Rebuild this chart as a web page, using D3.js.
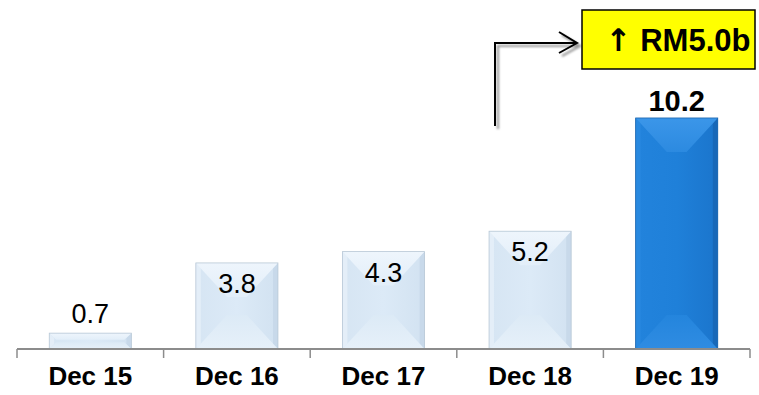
<!DOCTYPE html>
<html>
<head>
<meta charset="utf-8">
<script src="https://cdn.jsdelivr.net/npm/d3@7"></script>
<style>
  html, body { margin: 0; padding: 0; background: #fff; }
  svg { display: block; font-family: "Liberation Sans", Arial, sans-serif; }
</style>
</head>
<body>
<svg id="chart" width="759" height="395"></svg>
<script>
// Year-end balances (RM billion)
const categories = ["Dec 15", "Dec 16", "Dec 17", "Dec 18", "Dec 19"];
const values = [0.7, 3.8, 4.3, 5.2, 10.2];
const highlight = ["Dec 19"];

const svg = d3.select("#chart");
const axisY = 349;

const x = d3.scaleBand()
  .domain(categories)
  .range([17, 750])
  .paddingInner(0.44)
  .paddingOuter(0.22);

const y = d3.scaleLinear().domain([0, 12]).range([axisY, 77.2]);

const defs = svg.append("defs");

// soft shadow for the connector arrow
const blur = defs.append("filter").attr("id", "soft").attr("x", "-20%").attr("y", "-20%").attr("width", "140%").attr("height", "140%");
blur.append("feGaussianBlur").attr("stdDeviation", 1.2);

function grad(id, horizontal, stops) {
  const g = defs.append("linearGradient").attr("id", id)
    .attr("x1", 0).attr("y1", 0).attr("x2", horizontal ? 1 : 0).attr("y2", horizontal ? 0 : 1);
  stops.forEach(([o, c]) => g.append("stop").attr("offset", o).attr("stop-color", c));
}
grad("lightBase", true, [[0, "#d6e5f3"], [0.5, "#dceaf7"], [1, "#d2e2f1"]]);
grad("blueBase", true, [[0, "#2283dc"], [0.5, "#1f80d9"], [1, "#1b75cc"]]);
grad("lightTop", false, [[0, "#eef5fc"], [1, "#e2eef9"]]);
grad("blueTop", false, [[0, "#3b96e9"], [1, "#2c8ae0"]]);
grad("lightBottom", false, [[0, "#dceaf6"], [1, "#e6f0f9"]]);
grad("blueBottom", false, [[0, "#2485dd"], [1, "#2f8ce2"]]);

const palette = {
  light: { base: "url(#lightBase)", top: "url(#lightTop)", bottom: "url(#lightBottom)", left: "#e4eef8", right: "#c8d9ea", stroke: "#b9c8d6" },
  blue:  { base: "url(#blueBase)",  top: "url(#blueTop)",  bottom: "url(#blueBottom)",  left: "#2989e0", right: "#1868b8", stroke: "#1d66ae" }
};

// bevelled bars
const bars = svg.append("g").selectAll("g.bar")
  .data(categories.map((c, i) => ({ cat: c, value: values[i] })))
  .join("g").attr("class", "bar");

bars.each(function (d) {
  const g = d3.select(this);
  const p = highlight.includes(d.cat) ? palette.blue : palette.light;
  const x0 = x(d.cat), x1 = x0 + x.bandwidth();
  const y0 = y(d.value), y1 = y(0);
  const w = x1 - x0, h = y1 - y0;
  const depth = Math.min(h * 0.42, 34);
  const inset = Math.min(w * 0.38, depth * 1.05);
  const side = Math.min(5, w * 0.06);

  g.append("rect").attr("x", x0).attr("y", y0).attr("width", w).attr("height", h).attr("fill", p.base);
  g.append("polygon").attr("points", [[x0, y0], [x0 + side, y0 + side], [x0 + side, y1 - side], [x0, y1]].join(" "))
    .attr("fill", p.left);
  g.append("polygon").attr("points", [[x1, y0], [x1 - side, y0 + side], [x1 - side, y1 - side], [x1, y1]].join(" "))
    .attr("fill", p.right);
  g.append("polygon").attr("points", [[x0, y0], [x1, y0], [x1 - inset, y0 + depth], [x0 + inset, y0 + depth]].join(" "))
    .attr("fill", p.top);
  g.append("polygon").attr("points", [[x0, y1], [x1, y1], [x1 - inset, y1 - depth], [x0 + inset, y1 - depth]].join(" "))
    .attr("fill", p.bottom);
  g.append("rect").attr("x", x0).attr("y", y0).attr("width", w).attr("height", h)
    .attr("fill", "none").attr("stroke", p.stroke).attr("stroke-width", 0.8);
});

// value labels
bars.append("text")
  .attr("x", d => x(d.cat) + x.bandwidth() / 2)
  .attr("y", d => {
    const top = y(d.value);
    if (highlight.includes(d.cat)) return top - 7;
    if (y(0) - top < 40) return top - 10;
    return top + 30;
  })
  .attr("text-anchor", "middle")
  .attr("font-size", d => highlight.includes(d.cat) ? 29 : 27)
  .attr("font-weight", d => highlight.includes(d.cat) ? "bold" : "normal")
  .attr("fill", "#000")
  .text(d => d.value.toFixed(1));

// category axis
const axis = svg.append("g").attr("transform", `translate(0,${axisY})`);
axis.append("line").attr("x1", 17).attr("x2", 750).attr("y1", 0).attr("y2", 0)
  .attr("stroke", "#8c8c8c").attr("stroke-width", 2);
const half = x.step() * x.paddingInner() / 2;
const bounds = categories.map(c => x(c) - half)
  .concat([x(categories[categories.length - 1]) + x.bandwidth() + half]);
axis.selectAll("line.tick").data(bounds).join("line").attr("class", "tick")
  .attr("x1", d => d).attr("x2", d => d).attr("y1", 0).attr("y2", 9)
  .attr("stroke", "#8c8c8c").attr("stroke-width", 1.5);
axis.append("g")
  .call(d3.axisBottom(x).tickSize(0).tickPadding(0))
  .call(g => g.select(".domain").remove())
  .selectAll("text")
  .attr("dy", 0).attr("y", 36)
  .attr("font-size", 26).attr("font-weight", "bold").attr("fill", "#000")
  .attr("font-family", "'Liberation Sans', Arial, sans-serif");

// change annotation: connector arrow and callout box
const prev = values[categories.indexOf("Dec 18")];
const last = values[categories.indexOf("Dec 19")];
const ann = svg.append("g");
const path = "M495,126 L495,43 L577,43 M559,32 L577,43 L559,53";
ann.append("path").attr("d", path).attr("transform", "translate(3,3)")
  .attr("fill", "none").attr("stroke", "#9a9a9a").attr("stroke-width", 2.2).attr("filter", "url(#soft)");
ann.append("path").attr("d", path)
  .attr("fill", "none").attr("stroke", "#000").attr("stroke-width", 2);

ann.append("rect").attr("x", 582).attr("y", 10).attr("width", 173).attr("height", 59)
  .attr("fill", "#ffff00").attr("stroke", "#000").attr("stroke-width", 1.5);
const callout = ann.append("text").attr("x", 678).attr("y", 51).attr("text-anchor", "middle")
  .attr("font-size", 31).attr("font-weight", "bold").attr("fill", "#000");
callout.append("tspan").attr("font-family", "'DejaVu Sans', sans-serif").attr("font-weight", "bold").text("↑");
callout.append("tspan").text(` RM${(last - prev).toFixed(1)}b`);
</script>
</body>
</html>
